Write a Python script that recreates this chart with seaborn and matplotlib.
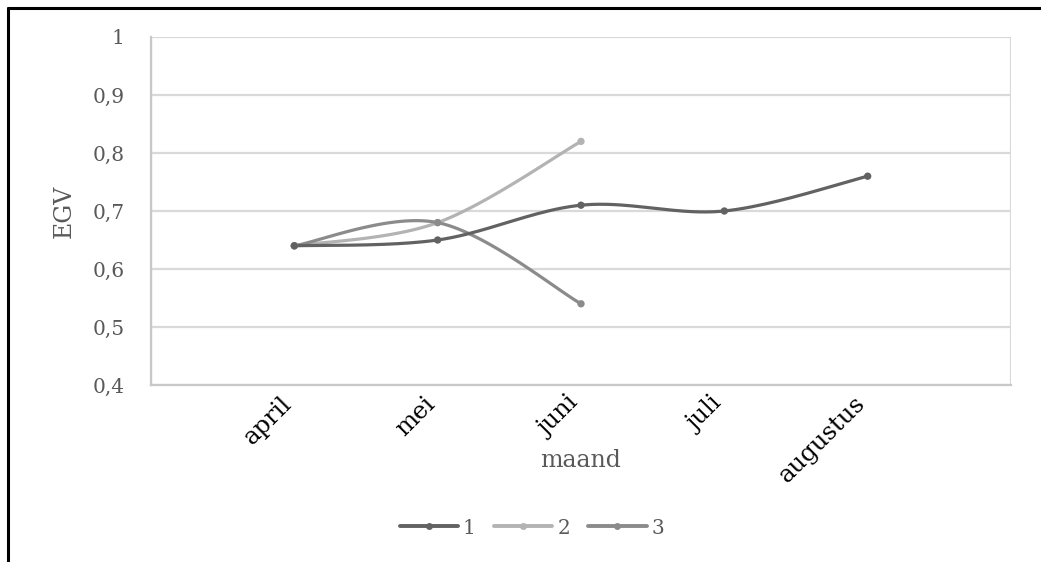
import numpy as np
import pandas as pd
import matplotlib
matplotlib.use("Agg")
import matplotlib.pyplot as plt
import matplotlib.transforms as mtransforms
from matplotlib.lines import Line2D
import seaborn as sns

# Monthly EGV values per series
months = ["april", "mei", "juni", "juli", "augustus"]
series_names = ["1", "2", "3"]
egv_1 = [0.64, 0.65, 0.71, 0.70, 0.76]
egv_2 = [0.64, 0.68, 0.82]
egv_3 = [0.64, 0.68, 0.54]
y_ticks = [0.4, 0.5, 0.6, 0.7, 0.8, 0.9, 1.0]

colors = {"1": "#626262", "2": "#b3b3b3", "3": "#8b8b8b"}

sns.set_theme(style="white")
plt.rcParams["font.family"] = ["DejaVu Serif"]


def smooth_curve(xs, ys, steps=40):
    """Cardinal (Catmull-Rom style) Bezier smoothing through every point."""
    pts = np.column_stack([xs, ys]).astype(float)
    n = len(pts)
    out = [pts[0]]
    t = np.linspace(0, 1, steps)[1:]
    for i in range(n - 1):
        p0 = pts[max(i - 1, 0)]
        p1 = pts[i]
        p2 = pts[i + 1]
        p3 = pts[min(i + 2, n - 1)]
        c1 = p1 + (p2 - p0) / 6.0
        c2 = p2 - (p3 - p1) / 6.0
        seg = ((1 - t) ** 3)[:, None] * p1 + (3 * (1 - t) ** 2 * t)[:, None] * c1 \
            + (3 * (1 - t) * t ** 2)[:, None] * c2 + (t ** 3)[:, None] * p2
        out.extend(seg)
    out = np.array(out)
    return out[:, 0], out[:, 1]


fig = plt.figure(figsize=(10.41, 5.62), dpi=100)
ax = fig.add_axes([151 / 1041, 1 - 385 / 562, 860 / 1041, 348 / 562])

points = []
curves = []
for name, vals in zip(series_names, [egv_1, egv_2, egv_3]):
    xs = np.arange(len(vals))
    cx, cy = smooth_curve(xs, vals)
    curves.append(pd.DataFrame({"x": cx, "y": cy, "serie": name}))
    points.append(pd.DataFrame({"x": xs, "y": vals, "serie": name}))
curve_df = pd.concat(curves, ignore_index=True)
point_df = pd.concat(points, ignore_index=True)

# draw the lighter series first so the dark one sits on top
for name in ["2", "3", "1"]:
    sub = curve_df[curve_df["serie"] == name]
    sns.lineplot(data=sub, x="x", y="y", sort=False, estimator=None,
                 color=colors[name], linewidth=2.3, ax=ax, legend=False, zorder=3)
    psub = point_df[point_df["serie"] == name]
    sns.scatterplot(data=psub, x="x", y="y", color=colors[name], s=28,
                    edgecolor="none", ax=ax, legend=False, zorder=4)

ax.set_xlim(-1, 5)
ax.set_ylim(0.4, 1.0)
ax.set_xticks(range(len(months)))
ax.set_xticklabels(months, rotation=45, ha="right", va="top",
                   rotation_mode="anchor", fontsize=17.5, color="black")
ax.set_yticks(y_ticks)
ax.set_yticklabels([f"{v:g}".replace(".", ",") for v in y_ticks],
                   fontsize=14.5, color="#595959")
ax.tick_params(axis="x", length=0, pad=5)
ax.tick_params(axis="y", length=0, pad=19)

# gridlines on every category position and every tick value
ax.set_xticks(range(-1, 6), minor=True)
ax.grid(which="minor", axis="x", color="#d9d9d9", linewidth=1.6)
ax.grid(which="major", axis="y", color="#d9d9d9", linewidth=1.6)
ax.grid(which="major", axis="x", visible=False)
ax.tick_params(which="minor", length=0)

# nudge the rotated month labels so their ends sit just left of each gridline
shift = mtransforms.ScaledTranslation(-14 / 100, 0, fig.dpi_scale_trans)
for lbl in ax.get_xticklabels():
    lbl.set_transform(lbl.get_transform() + shift)

for side in ["top", "right"]:
    ax.spines[side].set_visible(False)
for side in ["left", "bottom"]:
    ax.spines[side].set_color("#c8c8c8")
    ax.spines[side].set_linewidth(1.6)

ax.set_xlabel("maand", fontsize=17, color="#595959")
ax.set_ylabel("EGV", fontsize=17, color="#595959")
ax.xaxis.set_label_coords(0.5, -0.218)
ax.yaxis.set_label_coords(-0.101, 0.5)
ax.xaxis.label.set_va("center")
ax.yaxis.label.set_va("center")

handles = [Line2D([0], [0], color=colors[n], linewidth=2.8, marker="o",
                  markersize=5, markeredgewidth=0) for n in series_names]
fig.legend(handles, series_names, loc="center", ncol=3,
           bbox_to_anchor=(532 / 1041, 1 - 528 / 562), frameon=False,
           fontsize=14.5, labelcolor="#595959", handlelength=2.9,
           handletextpad=0.25, columnspacing=0.9)

# frame lines along the top and left edge of the figure
fig.add_artist(Line2D([8 / 1041, 1.0], [1 - 8 / 562, 1 - 8 / 562],
                      transform=fig.transFigure, color="black", linewidth=2.2))
fig.add_artist(Line2D([8 / 1041, 8 / 1041], [0.0, 1 - 8 / 562],
                      transform=fig.transFigure, color="black", linewidth=2.2))

fig.savefig("out.png", dpi=100)
